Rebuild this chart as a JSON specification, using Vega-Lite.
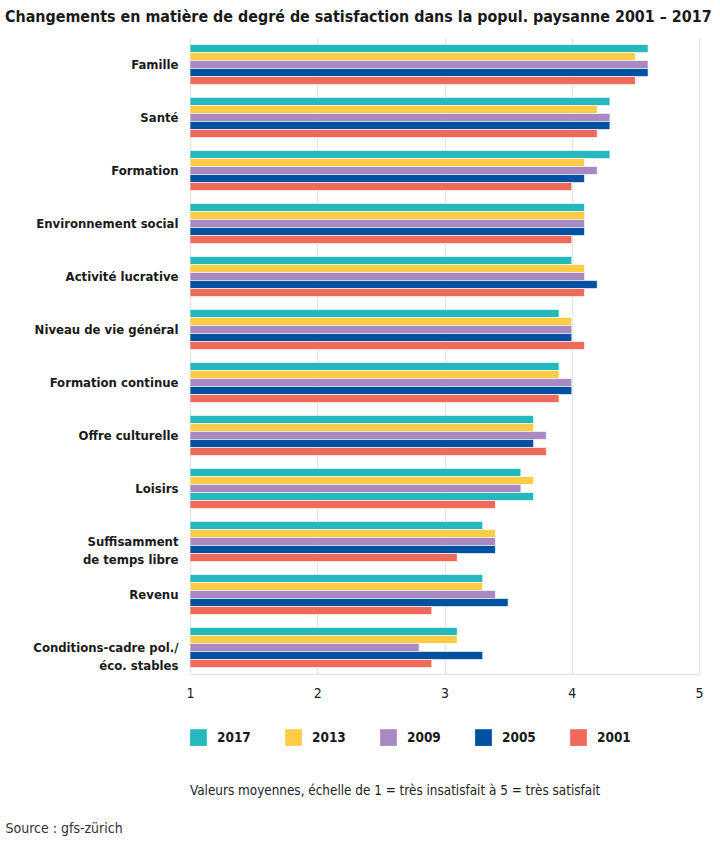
{
  "$schema": "https://vega.github.io/schema/vega-lite/v6.json",
  "autosize": "none",
  "width": 509,
  "height": 636,
  "padding": {"left": 190, "top": 38, "right": 21, "bottom": 169},
  "background": "#ffffff",
  "title": {
    "text": "Changements en matière de degré de satisfaction dans la popul. paysanne 2001 – 2017",
    "anchor": "start",
    "frame": "group",
    "dx": -185,
    "offset": 13,
    "fontSize": 15.9,
    "fontWeight": "bold",
    "color": "#1a1a1a"
  },
  "config": {
    "font": "Liberation Sans Narrow, DejaVu Sans Condensed, sans-serif",
    "view": {"stroke": null}
  },
  "data": {
    "values": [
      {"cat": "Famille", "year": "2017", "value": 4.6},
      {"cat": "Famille", "year": "2013", "value": 4.5},
      {"cat": "Famille", "year": "2009", "value": 4.6},
      {"cat": "Famille", "year": "2005", "value": 4.6},
      {"cat": "Famille", "year": "2001", "value": 4.5},
      {"cat": "Santé", "year": "2017", "value": 4.3},
      {"cat": "Santé", "year": "2013", "value": 4.2},
      {"cat": "Santé", "year": "2009", "value": 4.3},
      {"cat": "Santé", "year": "2005", "value": 4.3},
      {"cat": "Santé", "year": "2001", "value": 4.2},
      {"cat": "Formation", "year": "2017", "value": 4.3},
      {"cat": "Formation", "year": "2013", "value": 4.1},
      {"cat": "Formation", "year": "2009", "value": 4.2},
      {"cat": "Formation", "year": "2005", "value": 4.1},
      {"cat": "Formation", "year": "2001", "value": 4.0},
      {"cat": "Environnement social", "year": "2017", "value": 4.1},
      {"cat": "Environnement social", "year": "2013", "value": 4.1},
      {"cat": "Environnement social", "year": "2009", "value": 4.1},
      {"cat": "Environnement social", "year": "2005", "value": 4.1},
      {"cat": "Environnement social", "year": "2001", "value": 4.0},
      {"cat": "Activité lucrative", "year": "2017", "value": 4.0},
      {"cat": "Activité lucrative", "year": "2013", "value": 4.1},
      {"cat": "Activité lucrative", "year": "2009", "value": 4.1},
      {"cat": "Activité lucrative", "year": "2005", "value": 4.2},
      {"cat": "Activité lucrative", "year": "2001", "value": 4.1},
      {"cat": "Niveau de vie général", "year": "2017", "value": 3.9},
      {"cat": "Niveau de vie général", "year": "2013", "value": 4.0},
      {"cat": "Niveau de vie général", "year": "2009", "value": 4.0},
      {"cat": "Niveau de vie général", "year": "2005", "value": 4.0},
      {"cat": "Niveau de vie général", "year": "2001", "value": 4.1},
      {"cat": "Formation continue", "year": "2017", "value": 3.9},
      {"cat": "Formation continue", "year": "2013", "value": 3.9},
      {"cat": "Formation continue", "year": "2009", "value": 4.0},
      {"cat": "Formation continue", "year": "2005", "value": 4.0},
      {"cat": "Formation continue", "year": "2001", "value": 3.9},
      {"cat": "Offre culturelle", "year": "2017", "value": 3.7},
      {"cat": "Offre culturelle", "year": "2013", "value": 3.7},
      {"cat": "Offre culturelle", "year": "2009", "value": 3.8},
      {"cat": "Offre culturelle", "year": "2005", "value": 3.7},
      {"cat": "Offre culturelle", "year": "2001", "value": 3.8},
      {"cat": "Loisirs", "year": "2017", "value": 3.6},
      {"cat": "Loisirs", "year": "2013", "value": 3.7},
      {"cat": "Loisirs", "year": "2009", "value": 3.6},
      {"cat": "Loisirs", "year": "2005", "value": 3.7},
      {"cat": "Loisirs", "year": "2001", "value": 3.4},
      {"cat": "Suffisamment|de temps libre", "year": "2017", "value": 3.3},
      {"cat": "Suffisamment|de temps libre", "year": "2013", "value": 3.4},
      {"cat": "Suffisamment|de temps libre", "year": "2009", "value": 3.4},
      {"cat": "Suffisamment|de temps libre", "year": "2005", "value": 3.4},
      {"cat": "Suffisamment|de temps libre", "year": "2001", "value": 3.1},
      {"cat": "Revenu", "year": "2017", "value": 3.3},
      {"cat": "Revenu", "year": "2013", "value": 3.3},
      {"cat": "Revenu", "year": "2009", "value": 3.4},
      {"cat": "Revenu", "year": "2005", "value": 3.5},
      {"cat": "Revenu", "year": "2001", "value": 2.9},
      {"cat": "Conditions-cadre pol./|éco. stables", "year": "2017", "value": 3.1},
      {"cat": "Conditions-cadre pol./|éco. stables", "year": "2013", "value": 3.1},
      {"cat": "Conditions-cadre pol./|éco. stables", "year": "2009", "value": 2.8},
      {"cat": "Conditions-cadre pol./|éco. stables", "year": "2005", "value": 3.3},
      {"cat": "Conditions-cadre pol./|éco. stables", "year": "2001", "value": 2.9}
    ]
  },
  "mark": {"type": "bar", "stroke": "#ffffff", "strokeWidth": 1, "strokeOpacity": 0.6},
  "encoding": {
    "y": {
      "field": "cat",
      "type": "nominal",
      "sort": null,
      "scale": {"paddingInner": 0.245, "paddingOuter": 0.1225},
      "axis": {
        "title": "Source : gfs-zürich",
        "titleAngle": 0,
        "titleAlign": "left",
        "titleBaseline": "middle",
        "titleX": -185,
        "titleY": 790,
        "titleFontSize": 14,
        "titleFontWeight": "normal",
        "titleColor": "#333333",
        "labelExpr": "split(datum.label, '|')",
        "labelLineHeight": 18,
        "labelFontSize": 13,
        "labelFontWeight": "bold",
        "labelColor": "#1a1a1a",
        "labelPadding": 12,
        "labelLimit": 300,
        "ticks": false,
        "domain": false,
        "grid": false
      }
    },
    "yOffset": {
      "field": "year",
      "type": "nominal",
      "sort": ["2017", "2013", "2009", "2005", "2001"],
      "scale": {"paddingInner": 0, "paddingOuter": 0}
    },
    "x": {
      "field": "value",
      "type": "quantitative",
      "scale": {"domain": [1, 5], "nice": false, "zero": false},
      "axis": {
        "title": null,
        "values": [1, 2, 3, 4, 5],
        "format": "d",
        "grid": true,
        "gridColor": "#e6e6e6",
        "gridWidth": 1.5,
        "domain": true,
        "domainColor": "#e6e6e6",
        "domainWidth": 1.5,
        "ticks": false,
        "labelPadding": 12,
        "labelFontSize": 14,
        "labelColor": "#222222",
        "labelFlush": false
      }
    },
    "x2": {"datum": 1},
    "color": {
      "condition": {"test": "datum.cat === 'Loisirs' && datum.year === '2005'", "value": "#25b8bd"},
      "field": "year",
      "type": "nominal",
      "scale": {
        "domain": ["2017", "2013", "2009", "2005", "2001"],
        "range": ["#25b8bd", "#ffcd45", "#a88ac1", "#00519f", "#ee6b5c"]
      },
      "legend": {
        "orient": "bottom",
        "direction": "horizontal",
        "offset": 29,
        "symbolType": "square",
        "symbolSize": 280,
        "symbolStrokeWidth": 0,
        "symbolOpacity": 1,
        "labelFontSize": 13.5,
        "labelFontWeight": "bold",
        "labelColor": "#1a1a1a",
        "labelOffset": 10,
        "columnPadding": 34,
        "title": "Valeurs moyennes, échelle de 1 = très insatisfait à 5 = très satisfait",
        "titleOrient": "bottom",
        "titleAnchor": "start",
        "titlePadding": 38,
        "titleFontSize": 13.4,
        "titleFontWeight": "normal",
        "titleColor": "#222222",
        "titleLimit": 700
      }
    }
  }
}
